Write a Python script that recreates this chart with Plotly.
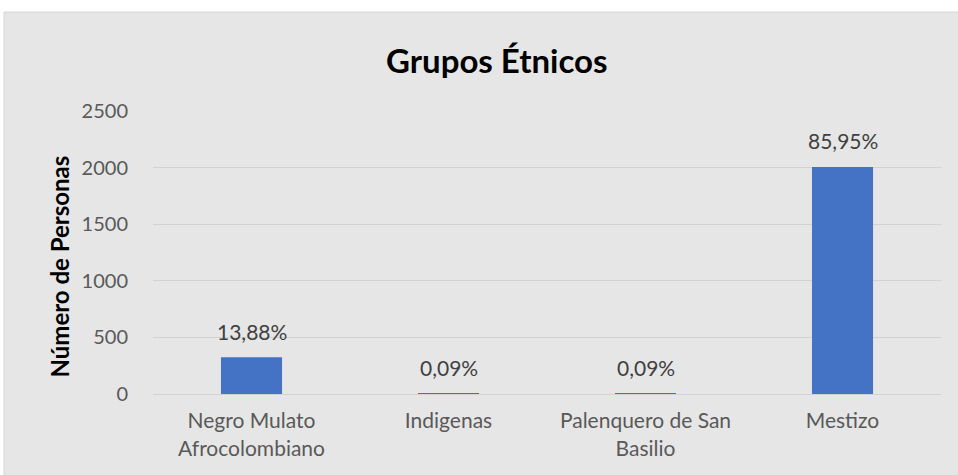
import plotly.graph_objects as go

categories = ["Negro Mulato<br>Afrocolombiano", "Indigenas", "Palenquero de San<br>Basilio", "Mestizo"]
values = [324, 2, 2, 2006]
pct_labels = ["13,88%", "0,09%", "0,09%", "85,95%"]
y_ticks = [0, 500, 1000, 1500, 2000, 2500]

FONT = "Lato"
W, H = 958, 475
L, R, T, B = 153, 17, 111, 81
pw, ph = W - L - R, H - T - B

def px_x(p):
    return (p - L) / pw

def px_y(p):
    return (H - B - p) / ph

fig = go.Figure()
fig.add_trace(go.Bar(
    x=categories, y=values, width=0.31,
    marker=dict(color="#4472c4", line=dict(width=0)),
    hoverinfo="skip",
))

for c, v, t in zip(categories, values, pct_labels):
    fig.add_annotation(x=c, y=v, text=t, showarrow=False, yshift=26,
                       yanchor="middle", font=dict(family=FONT, size=21, color="#404040"))

fig.add_annotation(xref="paper", yref="paper", x=px_x(42), y=px_y(267),
                   text="<b>Número de Personas</b>", textangle=-90, showarrow=False,
                   font=dict(family=FONT, size=24, color="#000000"))

fig.add_annotation(xref="paper", yref="paper", x=px_x(497), y=px_y(60),
                   text="<b>Grupos Étnicos</b>", showarrow=False,
                   xanchor="center", yanchor="middle",
                   font=dict(family=FONT, size=33, color="#000000"))

fig.add_shape(type="rect", xref="paper", yref="paper", layer="below",
              x0=px_x(4), x1=px_x(960), y0=px_y(478), y1=px_y(12),
              fillcolor="#e6e6e6", line=dict(color="#d6d6d6", width=1))

fig.update_layout(
    width=W, height=H,
    margin=dict(l=L, r=R, t=T, b=B),
    paper_bgcolor="white", plot_bgcolor="rgba(0,0,0,0)",
    showlegend=False,
    xaxis=dict(showgrid=False, showline=False, zeroline=False,
               ticks="outside", ticklen=8, tickcolor="rgba(0,0,0,0)",
               tickfont=dict(family=FONT, size=21, color="#595959")),
    yaxis=dict(range=[0, 2500], tickvals=y_ticks, showgrid=True, gridcolor="#d2d2d2",
               gridwidth=1, zeroline=True, zerolinecolor="#d2d2d2", zerolinewidth=1,
               showline=False, ticks="outside", ticklen=20, tickcolor="rgba(0,0,0,0)",
               tickfont=dict(family=FONT, size=20, color="#595959")),
)

fig.write_html("out.html", config={"displayModeBar": False},
               post_script="document.body.style.margin='0';")
